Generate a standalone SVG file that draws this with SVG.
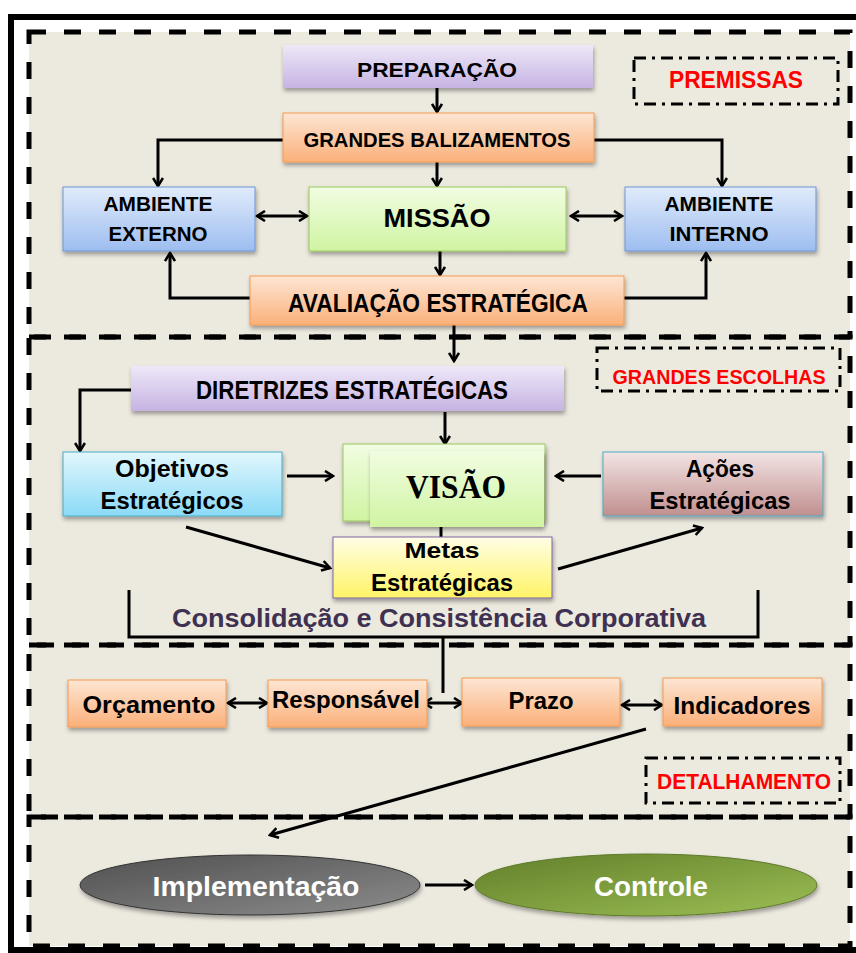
<svg xmlns="http://www.w3.org/2000/svg" width="856" height="953" viewBox="0 0 856 953">
  <defs>
    <linearGradient id="gPurple" x1="0" y1="0" x2="0" y2="1">
      <stop offset="0" stop-color="#EEE8F8"/>
      <stop offset="1" stop-color="#C6B3E3"/>
    </linearGradient>
    <linearGradient id="gOrange" x1="0" y1="0" x2="0" y2="1">
      <stop offset="0" stop-color="#FDE6D4"/>
      <stop offset="1" stop-color="#FBB07A"/>
    </linearGradient>
    <linearGradient id="gBlue" x1="0" y1="0" x2="0" y2="1">
      <stop offset="0" stop-color="#E0EBFB"/>
      <stop offset="1" stop-color="#9DBDF0"/>
    </linearGradient>
    <linearGradient id="gGreen" x1="0" y1="0" x2="0" y2="1">
      <stop offset="0" stop-color="#F1FDE2"/>
      <stop offset="1" stop-color="#D0F4A2"/>
    </linearGradient>
    <linearGradient id="gCyan" x1="0" y1="0" x2="0" y2="1">
      <stop offset="0" stop-color="#E2F7FD"/>
      <stop offset="1" stop-color="#8ADAF6"/>
    </linearGradient>
    <linearGradient id="gRose" x1="0" y1="0" x2="0" y2="1">
      <stop offset="0" stop-color="#F3E4E4"/>
      <stop offset="1" stop-color="#C08F8F"/>
    </linearGradient>
    <linearGradient id="gYellow" x1="0" y1="0" x2="0" y2="1">
      <stop offset="0" stop-color="#FFFEE6"/>
      <stop offset="1" stop-color="#FFF466"/>
    </linearGradient>
    <linearGradient id="gGray" x1="0" y1="0" x2="1" y2="1">
      <stop offset="0" stop-color="#505050"/>
      <stop offset="1" stop-color="#8C8C8C"/>
    </linearGradient>
    <linearGradient id="gOlive" x1="0" y1="0" x2="1" y2="1">
      <stop offset="0" stop-color="#62802A"/>
      <stop offset="1" stop-color="#9CBE55"/>
    </linearGradient>
    <filter id="shadow" x="-10%" y="-10%" width="125%" height="135%">
      <feDropShadow dx="1" dy="3" stdDeviation="2" flood-color="#000" flood-opacity="0.35"/>
    </filter>
    <marker id="arr" viewBox="0 0 12 12" refX="10" refY="6" markerWidth="12" markerHeight="12" markerUnits="userSpaceOnUse" orient="auto-start-reverse">
      <path d="M2,1 L10,6 L2,11" fill="none" stroke="#000" stroke-width="2.6"/>
    </marker>
    <style>
      .sec { fill: none; stroke: #000; stroke-width: 5; stroke-dasharray: 17 18; }
      .tag { fill: none; stroke: #000; stroke-width: 3; stroke-dasharray: 12 6 3 6; }
      .box { filter: url(#shadow); }
      .con { fill: none; stroke: #000; stroke-width: 3; }
      .t { font-family: "Liberation Sans Narrow", "Liberation Sans", Arial, sans-serif; font-weight: bold; text-anchor: middle; fill: #000; }
      .red { fill: #FF0000; }
      .white { fill: #FFFFFF; }
      .plum { fill: #3F3151; }
    </style>
  </defs>

  <!-- page, outer frame and section backgrounds -->
  <rect x="0" y="0" width="856" height="953" fill="#FFFFFF"/>
  <rect x="11" y="17" width="860" height="933" fill="#FFFFFF" stroke="#000" stroke-width="6"/>
  <rect x="29" y="32" width="821" height="914" fill="#ECE9DF"/>

  <!-- dashed section outlines -->
  <g id="sections">
    <rect class="sec" x="29" y="32" width="821" height="305"/>
    <rect class="sec" x="29" y="337" width="821" height="308"/>
    <rect class="sec" x="29" y="645" width="821" height="172"/>
    <rect class="sec" x="29" y="817" width="821" height="129"/>
  </g>

  <!-- section labels -->
  <g id="premissas">
    <rect class="tag" x="634" y="58" width="204" height="46"/>
    <text class="t red" x="736" y="88" font-size="23" textLength="134" lengthAdjust="spacingAndGlyphs">PREMISSAS</text>
  </g>
  <g id="grandes-escolhas">
    <rect class="tag" x="597" y="348" width="243" height="43"/>
    <text class="t red" x="719" y="384" font-size="21" textLength="213" lengthAdjust="spacingAndGlyphs">GRANDES ESCOLHAS</text>
  </g>
  <g id="detalhamento">
    <rect class="tag" x="646" y="758" width="194" height="45"/>
    <text class="t red" x="744" y="789" font-size="22" textLength="174" lengthAdjust="spacingAndGlyphs">DETALHAMENTO</text>
  </g>

  <!-- connectors -->
  <g id="connectors">
    <line class="con" x1="437" y1="88" x2="437" y2="112" marker-end="url(#arr)"/>
    <polyline class="con" points="283,140 158,140 158,186" marker-end="url(#arr)"/>
    <polyline class="con" points="594,140 722,140 722,186" marker-end="url(#arr)"/>
    <line class="con" x1="437" y1="162" x2="437" y2="186" marker-end="url(#arr)"/>
    <line class="con" x1="257" y1="216" x2="307" y2="216" marker-start="url(#arr)" marker-end="url(#arr)"/>
    <line class="con" x1="571" y1="216" x2="622" y2="216" marker-start="url(#arr)" marker-end="url(#arr)"/>
    <line class="con" x1="440" y1="251" x2="440" y2="275" marker-end="url(#arr)"/>
    <polyline class="con" points="250,298 170,298 170,253" marker-end="url(#arr)"/>
    <polyline class="con" points="624,298 706,298 706,253" marker-end="url(#arr)"/>
    <line class="con" x1="454" y1="325" x2="454" y2="361" marker-end="url(#arr)"/>

    <polyline class="con" points="131,390 80,390 80,451" marker-end="url(#arr)"/>
    <line class="con" x1="445" y1="412" x2="445" y2="444" marker-end="url(#arr)"/>
    <line class="con" x1="287" y1="476" x2="333" y2="476" marker-end="url(#arr)"/>
    <line class="con" x1="601" y1="476" x2="556" y2="476" marker-end="url(#arr)"/>
    <line class="con" x1="441" y1="537" x2="441" y2="513" marker-end="url(#arr)"/>
    <line class="con" x1="186" y1="527" x2="330" y2="568" marker-end="url(#arr)"/>
    <line class="con" x1="558" y1="569" x2="702" y2="528" marker-end="url(#arr)"/>
    <polyline class="con" points="129,590 129,637 758,637 758,590"/>
    <line class="con" x1="443" y1="637" x2="443" y2="693"/>

    <line class="con" x1="228" y1="703" x2="267" y2="703" marker-start="url(#arr)" marker-end="url(#arr)"/>
    <line class="con" x1="424" y1="703" x2="462" y2="703" marker-start="url(#arr)" marker-end="url(#arr)"/>
    <line class="con" x1="622" y1="705" x2="662" y2="705" marker-start="url(#arr)" marker-end="url(#arr)"/>
    <line class="con" x1="646" y1="729" x2="270" y2="835" marker-end="url(#arr)"/>
    <line class="con" x1="425" y1="885" x2="472" y2="885" marker-end="url(#arr)"/>
  </g>

  <!-- premissas section -->
  <g id="preparacao">
    <rect class="box" x="283" y="45" width="310" height="43" fill="url(#gPurple)"/>
    <text class="t" x="437" y="77" font-size="21" textLength="160" lengthAdjust="spacingAndGlyphs">PREPARAÇÃO</text>
  </g>
  <g id="grandes-balizamentos">
    <rect class="box" x="283" y="113" width="311" height="49" fill="url(#gOrange)" stroke="#F59A52" stroke-width="1"/>
    <text class="t" x="437" y="147" font-size="21" textLength="267" lengthAdjust="spacingAndGlyphs">GRANDES BALIZAMENTOS</text>
  </g>
  <g id="ambiente-externo">
    <rect class="box" x="63" y="187" width="192" height="64" fill="url(#gBlue)" stroke="#6F95D6" stroke-width="1"/>
    <text class="t" x="158" y="211" font-size="20" textLength="109" lengthAdjust="spacingAndGlyphs">AMBIENTE</text>
    <text class="t" x="158" y="241" font-size="20" textLength="99" lengthAdjust="spacingAndGlyphs">EXTERNO</text>
  </g>
  <g id="missao">
    <rect class="box" x="309" y="187" width="257" height="64" fill="url(#gGreen)" stroke="#9CC85C" stroke-width="1"/>
    <text class="t" x="437" y="227" font-size="26" textLength="107" lengthAdjust="spacingAndGlyphs">MISSÃO</text>
  </g>
  <g id="ambiente-interno">
    <rect class="box" x="625" y="187" width="191" height="64" fill="url(#gBlue)" stroke="#6F95D6" stroke-width="1"/>
    <text class="t" x="719" y="211" font-size="20" textLength="109" lengthAdjust="spacingAndGlyphs">AMBIENTE</text>
    <text class="t" x="719" y="241" font-size="20" textLength="99" lengthAdjust="spacingAndGlyphs">INTERNO</text>
  </g>
  <g id="avaliacao-estrategica">
    <rect class="box" x="250" y="276" width="374" height="49" fill="url(#gOrange)" stroke="#F59A52" stroke-width="1"/>
    <text class="t" x="438" y="312" font-size="25" textLength="300" lengthAdjust="spacingAndGlyphs">AVALIAÇÃO ESTRATÉGICA</text>
  </g>

  <!-- grandes escolhas section -->
  <g id="diretrizes-estrategicas">
    <rect class="box" x="131" y="366" width="433" height="45" fill="url(#gPurple)"/>
    <text class="t" x="352" y="399" font-size="25" textLength="312" lengthAdjust="spacingAndGlyphs">DIRETRIZES ESTRATÉGICAS</text>
  </g>
  <g id="visao">
    <rect class="box" x="343" y="444" width="202" height="77" fill="url(#gGreen)" stroke="#9CC85C" stroke-width="1"/>
    <rect class="box" x="370" y="451" width="174" height="76" fill="url(#gGreen)"/>
    <text x="456" y="498" font-family="'Liberation Serif', 'Times New Roman', serif" font-weight="bold" font-size="33" text-anchor="middle" textLength="100" lengthAdjust="spacingAndGlyphs">VISÃO</text>
  </g>
  <g id="objetivos-estrategicos">
    <rect class="box" x="63" y="452" width="219" height="64" fill="url(#gCyan)" stroke="#4BACC6" stroke-width="1"/>
    <text class="t" x="172" y="477" font-size="24" textLength="114" lengthAdjust="spacingAndGlyphs">Objetivos</text>
    <text class="t" x="172" y="509" font-size="24" textLength="143" lengthAdjust="spacingAndGlyphs">Estratégicos</text>
  </g>
  <g id="acoes-estrategicas">
    <rect class="box" x="603" y="452" width="220" height="64" fill="url(#gRose)" stroke="#4BACC6" stroke-width="1"/>
    <text class="t" x="720" y="477" font-size="24" textLength="68" lengthAdjust="spacingAndGlyphs">Ações</text>
    <text class="t" x="720" y="509" font-size="24" textLength="141" lengthAdjust="spacingAndGlyphs">Estratégicas</text>
  </g>
  <g id="metas-estrategicas">
    <rect class="box" x="333" y="537" width="219" height="61" fill="url(#gYellow)" stroke="#8064A2" stroke-width="1"/>
    <text class="t" x="442" y="558" font-size="22" textLength="75" lengthAdjust="spacingAndGlyphs">Metas</text>
    <text class="t" x="442" y="591" font-size="23" textLength="142" lengthAdjust="spacingAndGlyphs">Estratégicas</text>
  </g>
  <g id="consolidacao">
    <text class="t plum" x="439" y="627" font-size="25" textLength="534" lengthAdjust="spacingAndGlyphs">Consolidação e Consistência Corporativa</text>
  </g>

  <!-- detalhamento section -->
  <g id="orcamento">
    <rect class="box" x="68" y="680" width="158" height="47" fill="url(#gOrange)" stroke="#F59A52" stroke-width="1"/>
    <text class="t" x="149" y="713" font-size="24" textLength="133" lengthAdjust="spacingAndGlyphs">Orçamento</text>
  </g>
  <g id="responsavel">
    <rect class="box" x="268" y="680" width="159" height="47" fill="url(#gOrange)" stroke="#F59A52" stroke-width="1"/>
    <text class="t" x="346" y="708" font-size="24" textLength="148" lengthAdjust="spacingAndGlyphs">Responsável</text>
  </g>
  <g id="prazo">
    <rect class="box" x="462" y="678" width="158" height="48" fill="url(#gOrange)" stroke="#F59A52" stroke-width="1"/>
    <text class="t" x="541" y="709" font-size="23" textLength="65" lengthAdjust="spacingAndGlyphs">Prazo</text>
  </g>
  <g id="indicadores">
    <rect class="box" x="663" y="678" width="159" height="48" fill="url(#gOrange)" stroke="#F59A52" stroke-width="1"/>
    <text class="t" x="742" y="714" font-size="24" textLength="137" lengthAdjust="spacingAndGlyphs">Indicadores</text>
  </g>

  <!-- execution section -->
  <g id="implementacao">
    <ellipse class="box" cx="250" cy="885" rx="170" ry="30" fill="url(#gGray)" stroke="#333" stroke-width="1"/>
    <text class="t white" x="256" y="896" font-size="27" textLength="207" lengthAdjust="spacingAndGlyphs">Implementação</text>
  </g>
  <g id="controle">
    <ellipse class="box" cx="646" cy="885" rx="171" ry="31" fill="url(#gOlive)" stroke="#5E7A2A" stroke-width="1"/>
    <text class="t white" x="651" y="896" font-size="27" textLength="114" lengthAdjust="spacingAndGlyphs">Controle</text>
  </g>
</svg>
